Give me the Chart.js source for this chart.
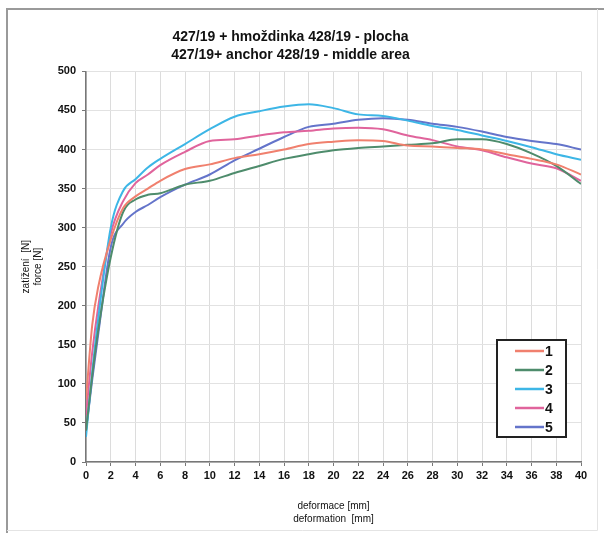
<!DOCTYPE html>
<html>
<head>
<meta charset="utf-8">
<script src="https://cdn.jsdelivr.net/npm/chart.js@4.4.1/dist/chart.umd.min.js"></script>
<style>
html,body{margin:0;padding:0;background:#fff;}
#wrap{position:relative;width:604px;height:533px;}
</style>
</head>
<body>
<div id="wrap"><canvas id="c" width="604" height="533"></canvas></div>
<script>
const titleLines = ['427/19 + hmoždinka 428/19 - plocha', '427/19+ anchor 428/19 - middle area'];
const xTitle = ['deformace [mm]', 'deformation  [mm]'];
const yTitle = ['zatížení  [N]', 'force [N]'];
const seriesNames = ['1', '2', '3', '4', '5'];
const seriesColors = ['#f0806e', '#4e8c6c', '#3db6e6', '#e0649c', '#6474ca'];

const deformation = [0, 0.5, 1, 2, 3, 4, 5, 6, 8, 10, 12, 14, 16, 18, 20, 22, 24, 26, 28, 30, 32, 34, 36, 38, 40];
const force1 = [80, 175, 225, 285, 325, 340, 350, 360, 375, 381, 389, 394, 400, 407, 410, 412, 411, 405, 404, 402, 400, 394, 388, 381, 368];
const force2 = [40, 110, 170, 262, 320, 336, 342, 344, 355, 360, 370, 379, 388, 394, 399, 402, 404, 406, 408, 413, 413, 407, 395, 379, 356];
const force3 = [32, 115, 185, 300, 347, 362, 377, 388, 407, 426, 442, 449, 455, 458, 453, 445, 443, 437, 430, 425, 418, 411, 403, 394, 387];
const force4 = [60, 140, 200, 292, 334, 357, 368, 380, 397, 411, 413, 418, 422, 424, 427, 428, 426, 418, 412, 404, 399, 390, 382, 376, 360];
const force5 = [40, 105, 165, 275, 305, 320, 329, 339, 355, 368, 386, 401, 416, 429, 433, 438, 440, 438, 433, 429, 423, 416, 411, 407, 400];
const allForces = [force1, force2, force3, force4, force5];

const datasets = allForces.map((arr, i) => ({
  label: seriesNames[i],
  data: deformation.map((x, j) => ({x: x, y: arr[j]})),
  borderColor: seriesColors[i],
  backgroundColor: seriesColors[i],
  borderWidth: 2,
  pointRadius: 0,
  cubicInterpolationMode: 'monotone',
  fill: false
}));

const framePlugin = {
  id: 'frame',
  beforeDraw(chart) {
    const c = chart.ctx;
    c.save();
    c.fillStyle = '#fff';
    c.fillRect(0, 0, chart.width, chart.height);
    c.strokeStyle = '#9a9a9a';
    c.lineWidth = 2;
    c.beginPath();
    c.moveTo(7, 533); c.lineTo(7, 9); c.lineTo(604, 9);
    c.stroke();
    c.strokeStyle = '#e4e4e4';
    c.lineWidth = 1;
    c.beginPath();
    c.moveTo(597.5, 9); c.lineTo(597.5, 530.5); c.lineTo(7, 530.5);
    c.stroke();
    c.restore();
  }
};

const boxLegend = {
  id: 'boxLegend',
  afterDatasetsDraw(chart) {
    const c = chart.ctx;
    const a = chart.chartArea;
    const left = a.right - 84, top = a.bottom - 122, w = 69, h = 97;
    c.save();
    c.fillStyle = '#fff';
    c.fillRect(left, top, w, h);
    c.strokeStyle = '#222';
    c.lineWidth = 2;
    c.strokeRect(left, top, w, h);
    c.font = 'bold 14px "Liberation Sans", Arial, sans-serif';
    c.textBaseline = 'middle';
    chart.data.datasets.forEach((ds, i) => {
      const y = top + 11 + i * 19;
      c.strokeStyle = ds.borderColor;
      c.lineWidth = 2.5;
      c.beginPath();
      c.moveTo(left + 18, y);
      c.lineTo(left + 47, y);
      c.stroke();
      c.fillStyle = '#111';
      c.fillText(ds.label, left + 48, y + 1);
    });
    c.restore();
  }
};

new Chart(document.getElementById('c'), {
  type: 'line',
  data: { datasets: datasets },
  plugins: [framePlugin, boxLegend],
  options: {
    responsive: false,
    animation: false,
    events: [],
    layout: { padding: { top: 8, right: 23, left: 0, bottom: 0 } },
    plugins: {
      legend: { display: false },
      tooltip: { enabled: false },
      title: {
        display: true,
        text: titleLines,
        color: '#111',
        font: { family: '"Liberation Sans", Arial, sans-serif', size: 14, weight: 'bold', lineHeight: 1.3 },
        padding: { top: 20, bottom: 7 }
      }
    },
    scales: {
      x: {
        type: 'linear',
        min: 0, max: 40,
        afterFit(s) { s.height = 71; },
        ticks: { stepSize: 2, color: '#111', padding: 3,
          font: { family: '"Liberation Sans", Arial, sans-serif', size: 11, weight: 'bold' } },
        grid: { color: '#dcdcdc', lineWidth: 1, tickLength: 4, tickColor: '#777' },
        border: { color: '#777', width: 1.5 },
        title: { display: true, text: xTitle, color: '#111',
          font: { family: '"Liberation Sans", Arial, sans-serif', size: 10, lineHeight: 1.25 },
          padding: { top: 20, bottom: 8 } }
      },
      y: {
        min: 0, max: 500,
        afterFit(s) { s.width = 86; },
        ticks: { stepSize: 50, color: '#111', padding: 6,
          font: { family: '"Liberation Sans", Arial, sans-serif', size: 11, weight: 'bold' } },
        grid: { color: '#e2e2e2', lineWidth: 1, tickLength: 4, tickColor: '#777' },
        border: { color: '#777', width: 1.5 },
        title: { display: true, text: yTitle, color: '#111',
          font: { family: '"Liberation Sans", Arial, sans-serif', size: 10, lineHeight: 1.2 },
          padding: { top: 20, bottom: 0 } }
      }
    }
  }
});
</script>
</body>
</html>
